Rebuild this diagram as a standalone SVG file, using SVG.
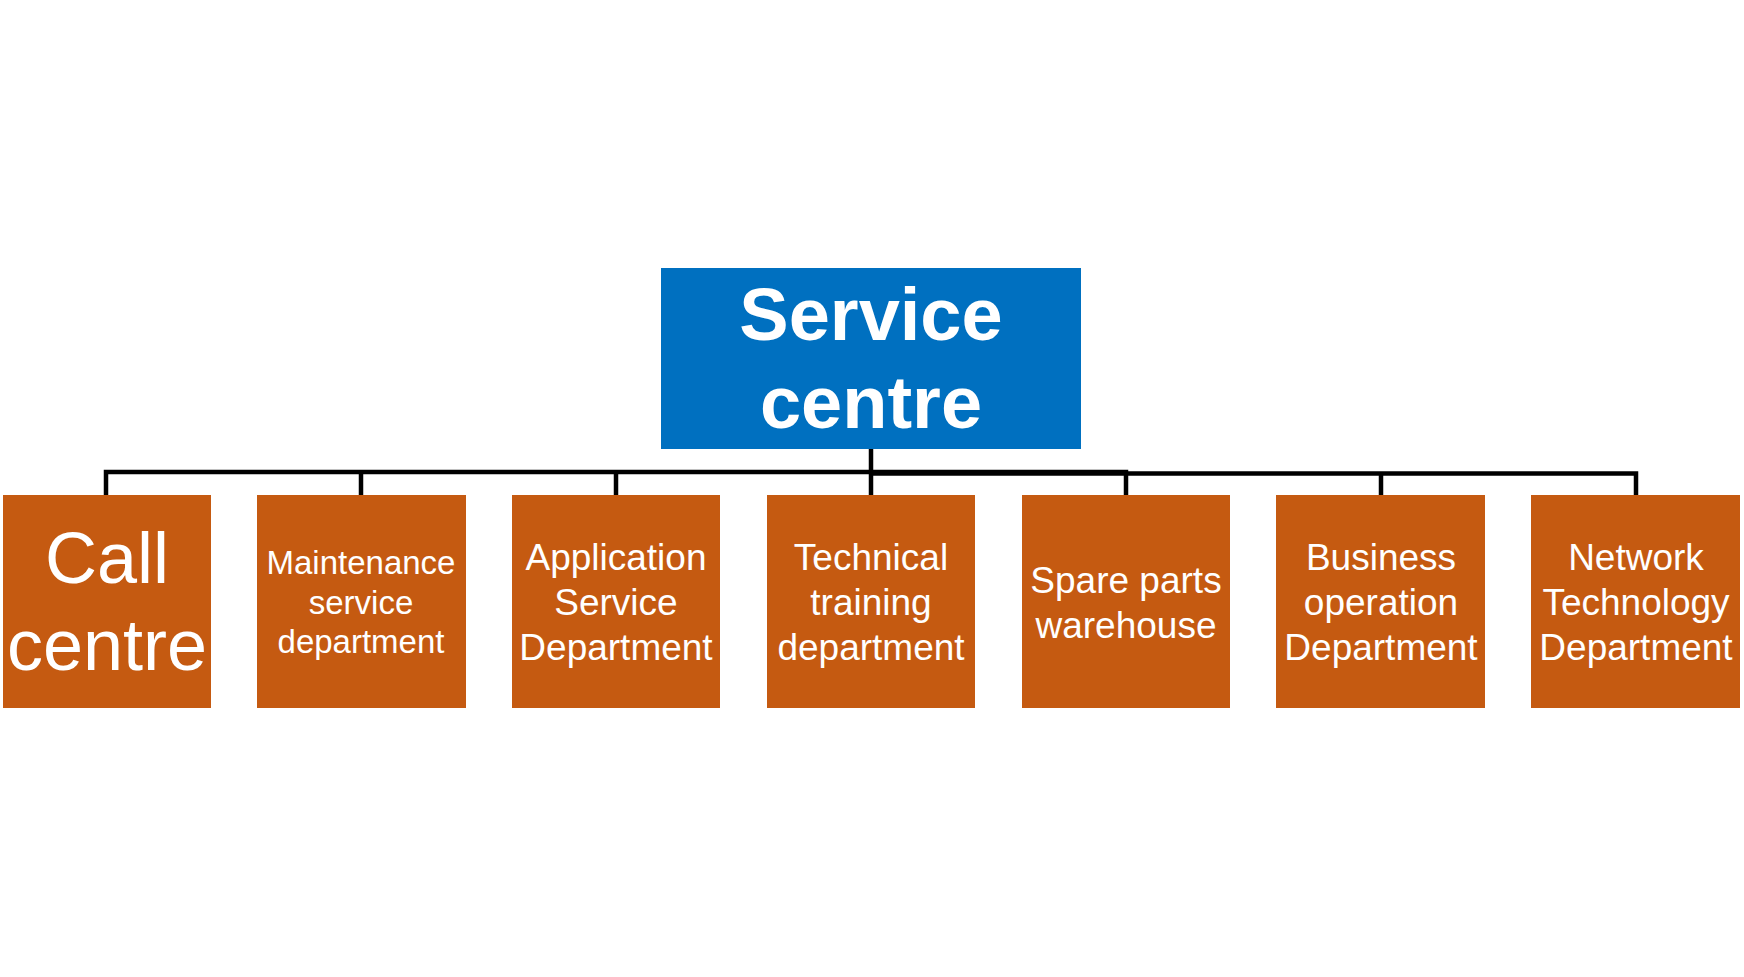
<svg xmlns="http://www.w3.org/2000/svg" width="1744" height="977" viewBox="0 0 1744 977">
<style>
.root{fill:#0070C0}
.dept{fill:#C55A11}
.t{fill:#FFFFFF;font-family:"Liberation Sans",Arial,sans-serif;text-anchor:middle}
.tb{font-weight:bold;font-size:74px}
.c{fill:none;stroke:#000000;stroke-width:4.5}
</style>
<rect width="1744" height="977" fill="#FFFFFF"/>
<g id="connectors">
<path class="c" d="M106,495 V472 H1126 V495"/>
<path class="c" d="M871,473.5 H1636 V495"/>
<path class="c" d="M871,449 V495"/>
<path class="c" d="M361,472 V495"/>
<path class="c" d="M616,472 V495"/>
<path class="c" d="M1381,473.5 V495"/>
</g>
<g id="service-centre">
<rect class="root" x="661" y="268" width="420" height="181"/>
<text class="t tb" x="871" y="340">Service</text>
<text class="t tb" x="871" y="428">centre</text>
</g>
<g id="call-centre">
<rect class="dept" x="3" y="495" width="208" height="213"/>
<text class="t" font-size="72" x="107" y="583">Call</text>
<text class="t" font-size="72" x="107" y="670">centre</text>
</g>
<g id="maintenance">
<rect class="dept" x="257" y="495" width="209" height="213"/>
<text class="t" font-size="33" x="361" y="574">Maintenance</text>
<text class="t" font-size="33" x="361" y="614">service</text>
<text class="t" font-size="33" x="361" y="653">department</text>
</g>
<g id="application">
<rect class="dept" x="512" y="495" width="208" height="213"/>
<text class="t" font-size="37" x="616" y="570">Application</text>
<text class="t" font-size="37" x="616" y="615">Service</text>
<text class="t" font-size="37" x="616" y="660">Department</text>
</g>
<g id="technical">
<rect class="dept" x="767" y="495" width="208" height="213"/>
<text class="t" font-size="37" x="871" y="570">Technical</text>
<text class="t" font-size="37" x="871" y="615">training</text>
<text class="t" font-size="37" x="871" y="660">department</text>
</g>
<g id="spare-parts">
<rect class="dept" x="1022" y="495" width="208" height="213"/>
<text class="t" font-size="37" x="1126" y="593">Spare parts</text>
<text class="t" font-size="37" x="1126" y="638">warehouse</text>
</g>
<g id="business">
<rect class="dept" x="1276" y="495" width="209" height="213"/>
<text class="t" font-size="37" x="1381" y="570">Business</text>
<text class="t" font-size="37" x="1381" y="615">operation</text>
<text class="t" font-size="37" x="1381" y="660">Department</text>
</g>
<g id="network">
<rect class="dept" x="1531" y="495" width="209" height="213"/>
<text class="t" font-size="37" x="1636" y="570">Network</text>
<text class="t" font-size="37" x="1636" y="615">Technology</text>
<text class="t" font-size="37" x="1636" y="660">Department</text>
</g>
</svg>
